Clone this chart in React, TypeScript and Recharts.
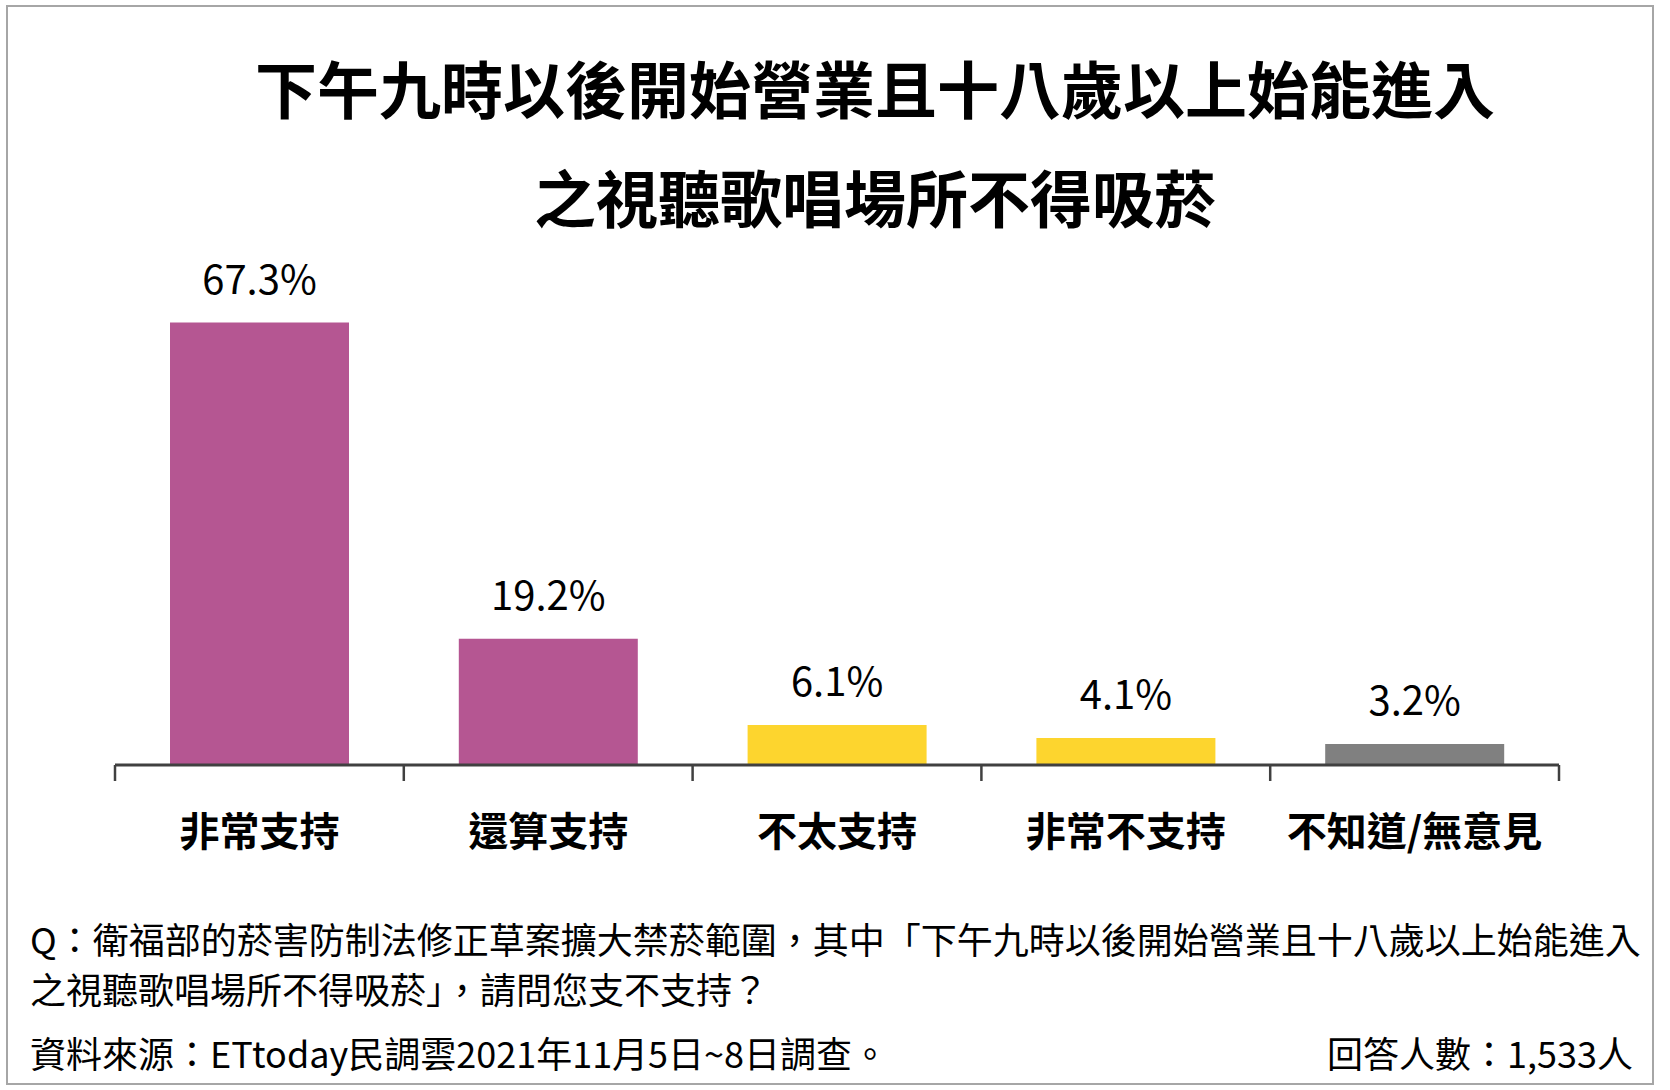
import React from "react";
import { BarChart, Bar, XAxis, YAxis, Cell, LabelList } from "recharts";

// 資料
const categories = ["非常支持", "還算支持", "不太支持", "非常不支持", "不知道/無意見"];
const shares = [67.3, 19.2, 6.1, 4.1, 3.2];
const edgeTicks = [0, 1, 2, 3, 4, 5];

const titleLines = ["下午九時以後開始營業且十八歲以上始能進入", "之視聽歌唱場所不得吸菸"];
const questionLines = [
  "Q：衛福部的菸害防制法修正草案擴大禁菸範圍，其中「下午九時以後開始營業且十八歲以上始能進入",
  "之視聽歌唱場所不得吸菸」，請問您支不支持？",
];
const sourceText = "資料來源：ETtoday民調雲2021年11月5日~8日調查。";
const sampleText = "回答人數：1,533人";

const barColors = ["#B55692", "#B55692", "#FDD52E", "#FDD52E", "#808080"];
const FONT = '"Noto Sans CJK TC", "Noto Sans", sans-serif';

export default function App() {
  // pos = 類別序號 + 0.5，只給邊界刻度軸用
  const chartData = categories.map((name, i) => ({ name, value: shares[i], pos: i + 0.5 }));

  return (
    <div style={{ position: "absolute", left: 0, top: 0, width: 1670, height: 1090, background: "#fff", fontFamily: FONT, color: "#000" }}>
      {/* 外框 */}
      <div style={{ position: "absolute", left: 6, top: 5, width: 1644, height: 1076, border: "2px solid #A6A6A6" }} />

      {/* 標題 */}
      {titleLines.map((t, i) => (
        <div
          key={t}
          style={{
            position: "absolute",
            left: 0,
            width: 1750,
            top: 56 + i * 109,
            textAlign: "center",
            fontSize: 62,
            lineHeight: "62px",
            fontWeight: 700,
            whiteSpace: "nowrap",
          }}
        >
          {t}
        </div>
      ))}

      <div style={{ position: "absolute", left: 0, top: 0 }}>
        <BarChart width={1670} height={1090} data={chartData} margin={{ top: 239, right: 111, left: 115, bottom: 244 }}>
          <XAxis
            xAxisId="b"
            dataKey="name"
            height={80}
            axisLine={false}
            tickLine={false}
            tickSize={0}
            tickMargin={52}
            interval={0}
            tick={{ fontSize: 40, fontWeight: 700, fill: "#000", fontFamily: FONT }}
          />
          <XAxis
            xAxisId="a"
            dataKey="pos"
            type="number"
            domain={[0, 5]}
            ticks={edgeTicks}
            allowDataOverflow
            interval={0}
            height={1}
            tick={{ fill: "transparent", fontSize: 1 }}
            tickSize={16}
            axisLine={{ stroke: "#404040", strokeWidth: 3 }}
            tickLine={{ stroke: "#404040", strokeWidth: 2.5 }}
          />
          <YAxis hide domain={[0, 80]} />
          <Bar dataKey="value" xAxisId="b" barSize={179} isAnimationActive={false}>
            {chartData.map((d, i) => (
              <Cell key={d.name} fill={barColors[i]} />
            ))}
            <LabelList
              dataKey="value"
              position="top"
              offset={29}
              formatter={(v: any) => `${Number(v).toFixed(1)}%`}
              style={{ fontSize: 40, fill: "#000", fontFamily: FONT }}
            />
          </Bar>
        </BarChart>
      </div>

      {/* 題目與來源 */}
      {questionLines.map((t, i) => (
        <div
          key={t}
          style={{ position: "absolute", left: 30, top: 916 + i * 50, fontSize: 36, lineHeight: "44px", whiteSpace: "nowrap" }}
        >
          {t}
        </div>
      ))}
      <div style={{ position: "absolute", left: 30, top: 1030, fontSize: 36, lineHeight: "44px", whiteSpace: "nowrap" }}>
        {sourceText}
      </div>
      <div style={{ position: "absolute", right: 37, top: 1030, fontSize: 36, lineHeight: "44px", whiteSpace: "nowrap" }}>
        {sampleText}
      </div>
    </div>
  );
}
